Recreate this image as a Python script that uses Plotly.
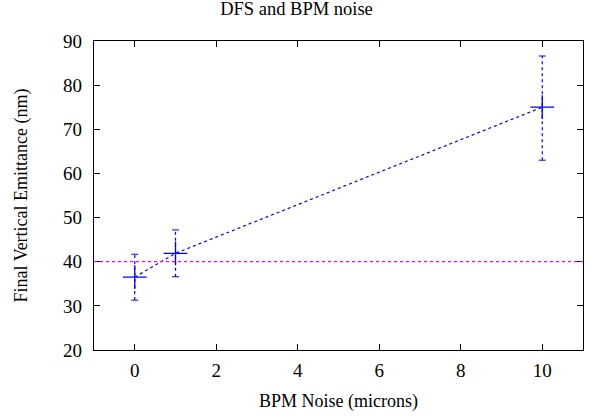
import plotly.graph_objects as go

noise = [0, 1, 10]
emittance = [36.5, 41.9, 75.0]
err_low = [31.3, 36.6, 63.0]
err_high = [41.7, 47.2, 86.6]
reference_level = 40

# dotted error bars as line segments
ex, ey = [], []
for x, lo, hi in zip(noise, err_low, err_high):
    ex += [x, x, None]
    ey += [lo, hi, None]

fig = go.Figure()
fig.add_trace(go.Scatter(x=ex, y=ey, mode="lines",
                         line=dict(color="#0000ff", width=1.2, dash="dot"),
                         showlegend=False, hoverinfo="skip"))
fig.add_trace(go.Scatter(x=noise + noise, y=err_low + err_high, mode="markers",
                         marker=dict(symbol="line-ew", size=5,
                                     line=dict(color="#0000ff", width=1)),
                         showlegend=False, hoverinfo="skip"))
fig.add_trace(go.Scatter(x=noise, y=emittance, mode="lines+markers",
                         line=dict(color="#0000ff", width=1.2, dash="dot"),
                         marker=dict(symbol="cross-thin", size=17,
                                     line=dict(color="#0000ff", width=1.3)),
                         showlegend=False))
fig.add_shape(type="line", xref="paper", x0=0, x1=1, yref="y",
              y0=reference_level, y1=reference_level,
              line=dict(color="#ff00ff", width=1.2, dash="dot"))

font = "Liberation Serif, Times New Roman, serif"
fig.update_layout(
    width=593, height=418,
    margin=dict(l=94, r=10, t=41, b=68),
    paper_bgcolor="white", plot_bgcolor="white",
    font=dict(family=font, color="black", size=19),
    title=dict(text="DFS and BPM noise", x=0.5, xanchor="center",
               y=0.995, yanchor="top", font=dict(size=18.5)),
    xaxis=dict(range=[-1, 11], tickvals=[0, 2, 4, 6, 8, 10],
               showline=True, linecolor="black", linewidth=1.3, mirror="ticks",
               ticks="inside", ticklen=6, tickcolor="black", showgrid=False,
               zeroline=False, automargin=False, ticklabelstandoff=3,
               title=dict(text="BPM Noise (microns)", font=dict(size=18), standoff=14)),
    yaxis=dict(range=[20, 90], tickvals=[20, 30, 40, 50, 60, 70, 80, 90],
               showline=True, linecolor="black", linewidth=1.3, mirror="ticks",
               ticks="inside", ticklen=6, tickcolor="black", showgrid=False,
               zeroline=False, automargin=False, ticklabelstandoff=7,
               title=dict(text="Final Vertical Emittance (nm)", font=dict(size=18), standoff=30)),
)

fig.write_html("out.html",
               config={"displayModeBar": False},
               post_script="document.body.style.margin='0';document.body.style.overflow='hidden';")
